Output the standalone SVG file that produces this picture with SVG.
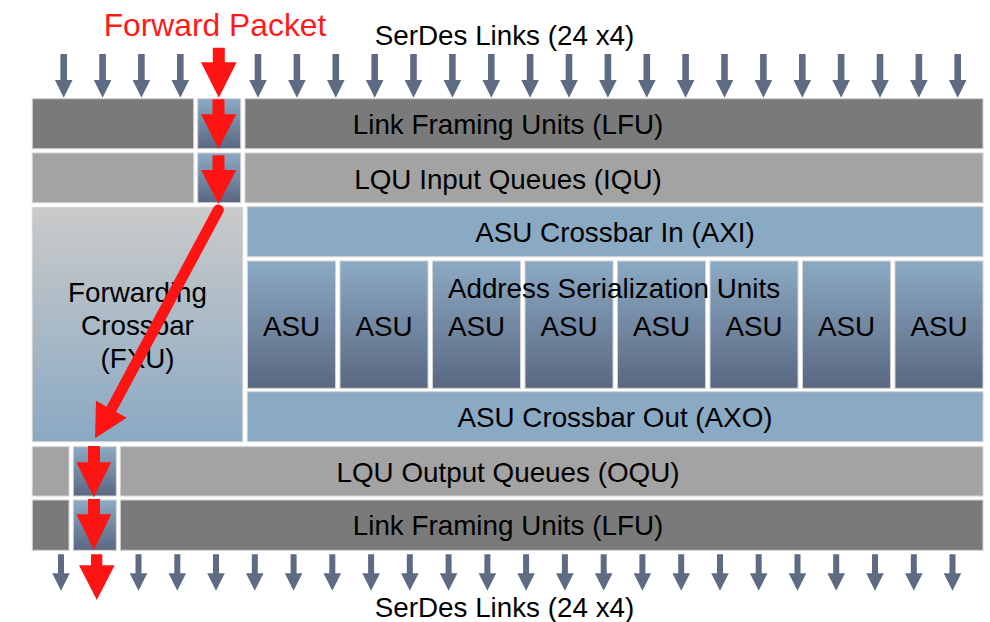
<svg xmlns="http://www.w3.org/2000/svg" xmlns:xlink="http://www.w3.org/1999/xlink" width="990" height="622" viewBox="0 0 990 622">
<defs>
<linearGradient id="gBlue" x1="0" y1="0" x2="0" y2="1">
<stop offset="0" stop-color="#8caac4"/>
<stop offset="1" stop-color="#5a6781"/>
</linearGradient>
<linearGradient id="gFxu" x1="0" y1="0" x2="0" y2="1">
<stop offset="0" stop-color="#cacaca"/>
<stop offset="1" stop-color="#8aa9c3"/>
</linearGradient>
<path id="gArrTop" d="M-3.3,54 H3.3 V80 H8.8 L0,97.7 L-8.8,80 H-3.3 Z"/>
<path id="gArrBot" d="M-3,554.3 H3 V573.3 H8.8 L0,590.7 L-8.8,573.3 H-3 Z"/>
</defs>
<style>
.lfu{fill:#7a7a7a;stroke:#d2d2d2;stroke-width:1}
.iqu{fill:#a3a3a3;stroke:#d2d2d2;stroke-width:1}
.blue{fill:#8aa9c3;stroke:#d2d2d2;stroke-width:1}
.grad{fill:url(#gBlue);stroke:#d2d2d2;stroke-width:1}
.fxu{fill:url(#gFxu);stroke:#d2d2d2;stroke-width:1}
.t{font-family:"Liberation Sans",Arial,sans-serif;font-size:27.8px;fill:#000;text-anchor:middle}
.fp{font-family:"Liberation Sans",Arial,sans-serif;font-size:31.8px;fill:#ff1a1a;text-anchor:middle}
.ga{fill:#5d6b83}
.red{fill:#ff1414}
</style>

<g id="top-links">
<text class="t" x="504.5" y="45">SerDes Links (24 x4)</text>
<g class="ga">
<use xlink:href="#gArrTop" transform="translate(63.7,0)"/>
<use xlink:href="#gArrTop" transform="translate(102.6,0)"/>
<use xlink:href="#gArrTop" transform="translate(141.4,0)"/>
<use xlink:href="#gArrTop" transform="translate(180.3,0)"/>
<use xlink:href="#gArrTop" transform="translate(258,0)"/>
<use xlink:href="#gArrTop" transform="translate(296.9,0)"/>
<use xlink:href="#gArrTop" transform="translate(335.8,0)"/>
<use xlink:href="#gArrTop" transform="translate(374.7,0)"/>
<use xlink:href="#gArrTop" transform="translate(413.5,0)"/>
<use xlink:href="#gArrTop" transform="translate(452.4,0)"/>
<use xlink:href="#gArrTop" transform="translate(491.3,0)"/>
<use xlink:href="#gArrTop" transform="translate(530.1,0)"/>
<use xlink:href="#gArrTop" transform="translate(569,0)"/>
<use xlink:href="#gArrTop" transform="translate(607.9,0)"/>
<use xlink:href="#gArrTop" transform="translate(646.8,0)"/>
<use xlink:href="#gArrTop" transform="translate(685.6,0)"/>
<use xlink:href="#gArrTop" transform="translate(724.5,0)"/>
<use xlink:href="#gArrTop" transform="translate(763.4,0)"/>
<use xlink:href="#gArrTop" transform="translate(802.3,0)"/>
<use xlink:href="#gArrTop" transform="translate(841.1,0)"/>
<use xlink:href="#gArrTop" transform="translate(880,0)"/>
<use xlink:href="#gArrTop" transform="translate(918.9,0)"/>
<use xlink:href="#gArrTop" transform="translate(957.7,0)"/>
</g>
</g>

<g id="lfu-in">
<rect class="lfu" x="32.3" y="98.7" width="161.4" height="50"/>
<rect class="grad" x="197.7" y="98.7" width="43" height="50"/>
<rect class="lfu" x="245" y="98.7" width="738" height="50"/>
<text class="t" x="508" y="133.5">Link Framing Units (LFU)</text>
</g>

<g id="iqu">
<rect class="iqu" x="32.3" y="153" width="161.4" height="49.7"/>
<rect class="grad" x="197.7" y="153" width="43" height="49.7"/>
<rect class="iqu" x="245" y="153" width="738" height="49.7"/>
<text class="t" x="508" y="188.5">LQU Input Queues (IQU)</text>
</g>

<g id="fxu">
<rect class="fxu" x="32.3" y="207.3" width="210.4" height="234.4"/>
<text class="t" x="137.5" y="302">Forwarding</text>
<text class="t" x="137.5" y="335">Crossbar</text>
<text class="t" x="137.5" y="368">(FXU)</text>
</g>

<g id="axi">
<rect class="blue" x="247.3" y="206.7" width="735.7" height="50"/>
<text class="t" x="615" y="242">ASU Crossbar In (AXI)</text>
</g>

<g id="asu">
<rect class="grad" x="247.5" y="261" width="88" height="127.3"/>
<rect class="grad" x="340" y="261" width="88" height="127.3"/>
<rect class="grad" x="432.5" y="261" width="88" height="127.3"/>
<rect class="grad" x="525" y="261" width="88" height="127.3"/>
<rect class="grad" x="617.5" y="261" width="88" height="127.3"/>
<rect class="grad" x="710" y="261" width="88" height="127.3"/>
<rect class="grad" x="802.5" y="261" width="88" height="127.3"/>
<rect class="grad" x="895" y="261" width="88" height="127.3"/>
<text class="t" x="291.5" y="336">ASU</text>
<text class="t" x="384" y="336">ASU</text>
<text class="t" x="476.5" y="336">ASU</text>
<text class="t" x="569" y="336">ASU</text>
<text class="t" x="661.5" y="336">ASU</text>
<text class="t" x="754" y="336">ASU</text>
<text class="t" x="846.5" y="336">ASU</text>
<text class="t" x="939" y="336">ASU</text>
<text class="t" x="614" y="298">Address Serialization Units</text>
</g>

<g id="axo">
<rect class="blue" x="247.3" y="391.7" width="735.7" height="50"/>
<text class="t" x="615" y="427">ASU Crossbar Out (AXO)</text>
</g>

<g id="oqu">
<rect class="iqu" x="32.3" y="446.7" width="36.7" height="49.3"/>
<rect class="grad" x="73.3" y="446.7" width="43" height="49.3"/>
<rect class="iqu" x="120.3" y="446.7" width="862.7" height="49.3"/>
<text class="t" x="508" y="481.5">LQU Output Queues (OQU)</text>
</g>

<g id="lfu-out">
<rect class="lfu" x="32.3" y="500" width="36.7" height="50.3"/>
<rect class="grad" x="73.3" y="500" width="43" height="50.3"/>
<rect class="lfu" x="120.3" y="500" width="862.7" height="50.3"/>
<text class="t" x="508" y="535">Link Framing Units (LFU)</text>
</g>

<g id="bottom-links">
<g class="ga">
<use xlink:href="#gArrBot" transform="translate(61,0)"/>
<use xlink:href="#gArrBot" transform="translate(138.5,0)"/>
<use xlink:href="#gArrBot" transform="translate(177.3,0)"/>
<use xlink:href="#gArrBot" transform="translate(216,0)"/>
<use xlink:href="#gArrBot" transform="translate(254.8,0)"/>
<use xlink:href="#gArrBot" transform="translate(293.6,0)"/>
<use xlink:href="#gArrBot" transform="translate(332.3,0)"/>
<use xlink:href="#gArrBot" transform="translate(371.1,0)"/>
<use xlink:href="#gArrBot" transform="translate(409.8,0)"/>
<use xlink:href="#gArrBot" transform="translate(448.6,0)"/>
<use xlink:href="#gArrBot" transform="translate(487.4,0)"/>
<use xlink:href="#gArrBot" transform="translate(526.1,0)"/>
<use xlink:href="#gArrBot" transform="translate(564.9,0)"/>
<use xlink:href="#gArrBot" transform="translate(603.7,0)"/>
<use xlink:href="#gArrBot" transform="translate(642.4,0)"/>
<use xlink:href="#gArrBot" transform="translate(681.2,0)"/>
<use xlink:href="#gArrBot" transform="translate(720,0)"/>
<use xlink:href="#gArrBot" transform="translate(758.7,0)"/>
<use xlink:href="#gArrBot" transform="translate(797.5,0)"/>
<use xlink:href="#gArrBot" transform="translate(836.2,0)"/>
<use xlink:href="#gArrBot" transform="translate(875,0)"/>
<use xlink:href="#gArrBot" transform="translate(913.8,0)"/>
<use xlink:href="#gArrBot" transform="translate(952.5,0)"/>
</g>
<text class="t" x="504.5" y="617">SerDes Links (24 x4)</text>
</g>

<g id="connectors">
<text class="fp" x="215" y="36">Forward Packet</text>
<g class="red">
<path d="M212.8,47.7 H224.8 V62.3 H236.7 L218.8,97.7 L201,62.3 H212.8 Z"/>
<path d="M212.5,99.3 H224.5 V114.3 H236.3 L218.5,148.7 L201,114.3 H212.5 Z"/>
<path d="M212.5,155.3 H224.5 V170 H236.3 L218.5,204 L201,170 H212.5 Z"/>
<path d="M88,446 H100 V462.3 H111.3 L93.8,497.3 L76.3,462.3 H88 Z"/>
<path d="M88,499 H100 V514.3 H111.3 L93.8,550 L76.3,514.3 H88 Z"/>
<path d="M91,554.3 H102.3 V565.3 H114.7 L96.8,600 L79,565.3 H91 Z"/>
<polygon points="95,438.3 96,400.7 126.7,417.7"/>
</g>
<line x1="218.3" y1="210" x2="112" y2="408" stroke="#ff1414" stroke-width="11" stroke-linecap="round"/>
</g>
</svg>
